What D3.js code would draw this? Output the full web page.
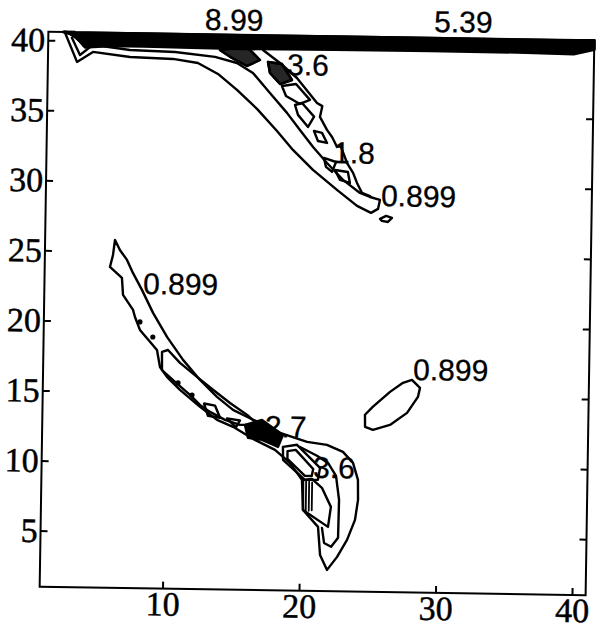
<!DOCTYPE html>
<html><head><meta charset="utf-8">
<script src="https://cdn.jsdelivr.net/npm/d3@7"></script>
<style>body{margin:0;background:#fff}svg{display:block}</style>
</head><body>
<svg id="chart" width="603" height="635"></svg>
<script>
// ---------- data (in data units) ----------
const xTicks = [10, 20, 30, 40];
const yTicks = [5, 10, 15, 20, 25, 30, 35, 40];
const xDomain = [1, 41];
const yDomain = [1, 40.6];

// top band: tightly packed contour lines (levels 1.8 ... 8.99)
const band0 = [[2.1,40.6],[2.9,40.52],[4,40.55],[8,40.56],[15,40.55],[22,40.56],[29,40.56],[36,40.55],[39.5,40.55],[41,40.58]];
const band1 = [[2.2,40.6],[3.0,40.40],[4.2,40.44],[8,40.45],[15,40.44],[22,40.45],[29,40.45],[36,40.44],[39.5,40.43],[41,40.5]];
const band2 = [[2.3,40.6],[3.1,40.27],[4.4,40.33],[8,40.34],[15,40.32],[22,40.34],[29,40.33],[36,40.33],[39.5,40.31],[41,40.42]];
const band3 = [[2.4,40.6],[3.2,40.15],[4.6,40.22],[8,40.23],[15,40.2],[22,40.22],[29,40.22],[36,40.22],[39.5,40.19],[41,40.34]];
const band4 = [[2.5,40.6],[3.3,40.03],[4.8,40.11],[8,40.12],[15,40.08],[22,40.11],[29,40.11],[36,40.1],[39.5,40.07],[41,40.26]];
const band5 = [[2.6,40.6],[3.4,39.9],[5.0,40.0],[8,40.0],[15,39.96],[22,39.99],[29,40.0],[36,39.99],[39.5,39.95],[41,40.18]];
const band6 = [[2.7,40.6],[3.5,39.78],[5.2,39.89],[8,39.89],[15,39.84],[22,39.88],[29,39.89],[36,39.88],[39.5,39.83],[41,40.1]];
const band7 = [[2.8,40.6],[3.6,39.66],[5.4,39.78],[8,39.78],[15,39.72],[22,39.77],[29,39.78],[36,39.77],[39.5,39.71],[41,40.02]];
const band8 = [[2.9,40.6],[3.7,39.54],[5.6,39.67],[8,39.67],[15,39.6],[22,39.66],[29,39.67],[36,39.66],[39.5,39.6],[41,39.94]];

// upper arm, level 0.899 (loop)
const arm1Level0899 = [[2.2,40.6],[3.13,38.48],[4.29,39.21],[7.01,38.89],[10.16,38.80],[11.99,38.54],[13.47,37.78],[14.88,36.66],[16.37,35.33],[17.86,33.78],[19.05,32.44],[20.54,31.04],[22.32,29.64],[23.81,28.52],[24.84,28.04],[25.35,28.33],[25.48,28.97],
  [24.75,29.17],[24.01,29.45],[22.75,30.36],[21.56,31.55],[20.52,32.68],[19.54,33.87],[18.57,35.08],[17.30,36.48],[16.03,37.89],[14.85,38.58],[13.23,38.99],[10.30,39.30],[7.0,39.39],[4.28,39.71],[3.34,38.98],[2.73,40.19]];
// upper arm, level 1.8 (jagged right edge)
const arm1Level18 = [[16.74,39.54],[18.0,38.63],[19.26,37.58],[20.46,36.17],[20.76,35.82],[21.15,35.6],[20.99,34.83],[21.52,33.91],[21.9,33.41],[22.27,32.72],[22.55,32.75],[23.03,31.57],[23.48,30.87],[23.78,30.16],[24.16,29.45],[24.75,29.24]];
// upper arm, small high-level islands
const arm1Tri1 = [[13.59,39.49],[15.57,39.73],[16.53,38.82],[15.59,38.38],[14.48,38.93]];
const arm1Blob = [[17.12,38.69],[18.15,38.56],[18.90,37.43],[18.03,37.13],[17.28,37.91]];
const arm1Rect = [[18.17,36.99],[19.20,37.15],[20.24,36.03],[19.51,35.73],[18.48,36.28]];
const arm1Bars = [[19.15,35.65],[19.66,35.80],[20.56,34.84],[20.13,34.10],[19.38,34.95]];
const arm1Tri2 = [[20.57,33.82],[21.16,33.69],[21.54,32.98],[20.87,33.11]];
const arm1Tri3 = [[21.33,31.91],[22.22,31.63],[21.94,30.92],[21.49,31.27]];
const arm1Tri4 = [[22.15,31.06],[23.10,30.93],[23.26,30.15],[22.53,30.36]];
const arm1Oval = [[25.51,27.62],[25.95,27.84],[26.38,27.70],[26.09,27.41],[25.65,27.48]];

// lower arm, level 0.899 (loop)
const arm2Level0899 = [[6.12,25.82],[5.99,24.75],[5.78,23.89],[6.67,23.12],[6.77,21.91],[7.52,20.85],[7.67,20.35],[8.05,19.43],[9.32,18.02],[9.56,16.81],[10.08,16.11],[11.05,15.20],[12.54,14.01],[13.80,13.10],[14.98,12.62],[16.60,11.71],[18.08,11.02],[19.19,10.11],[20.09,8.91],[20.20,6.77],[21.32,5.58],[21.50,3.58],[22.03,2.52],
  [22.75,3.46],[23.46,4.68],[24.02,6.12],[24.22,7.55],[24.19,8.98],[23.81,10.18],[23.06,10.96],[21.88,11.44],[20.42,11.63],[18.43,12.24],[16.95,12.93],[16.21,13.25],[14.96,13.83],[13.77,14.74],[12.51,15.93],[11.24,17.34],[10.04,18.96],[8.99,20.66],[8.15,22.29],[7.47,23.49],[7.02,24.41],[6.49,25.11],[6.12,25.82]];
// lower arm, level 1.8 strip
const arm2Level18 = [[9.69,17.89],[10.13,18.03],[11.02,17.12],[12.28,16.14],[13.47,15.24],[14.73,14.32],[16.0,13.49],[16.81,12.79],[15.49,12.77],[14.38,13.11],[13.28,13.66],[12.53,14.15],[11.79,14.85],[10.68,15.76],[9.71,16.59]];
const arm2Dots = [[8.04,20.0],[9.0,18.94],[10.90,15.69],[11.94,14.84]];
const arm2Sq = [[12.83,14.25],[13.64,14.11],[14.02,13.25],[13.13,13.38]];
const arm2Tri = [[14.53,13.22],[15.48,13.08],[15.19,12.58]];
// lower tip
const tipLevel18 = [[19.91,11.26],[21.16,10.65],[21.98,10.15],[22.58,9.24],[22.83,7.53],[22.80,4.82],[22.30,4.17],[21.78,4.44],[21.61,5.51]];
const tipPentagon = [[20.17,8.91],[20.20,6.77],[22.05,5.59],[22.24,7.02],[21.56,8.37],[20.82,8.99]];
const tipRect = [[18.66,11.25],[19.69,11.41],[21.40,9.79],[21.26,8.93],[20.31,8.92],[18.68,10.32]];
const tipRectInner = [[19.0,10.95],[19.6,11.05],[20.9,9.7],[20.8,9.2],[20.3,9.2],[19.0,10.4]];
const tipBowtie = [[15.85,12.77],[17.09,13.15],[18.65,12.10],[18.30,11.24],[17.12,11.72],[16.09,11.85]];
const tipBarsX = [20.4, 20.62, 20.84];
const tipBarsTop = [8.85, 8.8, 8.75];
const tipBarsBottom = [6.7, 6.72, 6.75];

// isolated oval, level 0.899
const ovalLevel0899 = [[28.03,16.17],[28.63,15.61],[28.49,14.96],[27.71,13.81],[26.47,12.93],[25.23,12.56],[24.65,12.77],[24.63,13.63],[25.21,14.22],[26.44,15.29],[27.38,15.95]];

// contour labels
const labelTexts = ["8.99", "5.39", "3.6", "1.8", "0.899", "0.899", "0.899", "2.7", "3.6"];
const labelX = [12.46, 29.25, 18.53, 22.0, 25.56, 8.23, 28.11, 17.31, 20.9];
const labelY = [40.91, 41.02, 37.78, 31.55, 28.54, 22.0, 16.17, 11.94, 9.07];

// ---------- drawing ----------
const L = 44, R = 590, T = 36, B = 591;
const svg = d3.select("#chart");
svg.append("rect").attr("width", 603).attr("height", 635).attr("fill", "#fff");
const g = svg.append("g").attr("transform", "rotate(0.9,317,313.5)");

const x = d3.scaleLinear().domain(xDomain).range([L, R]);
const y = d3.scaleLinear().domain(yDomain).range([B, T]);
const line = d3.line().x(d => x(d[0])).y(d => y(d[1]));

const bandLines = [band0, band1, band2, band3, band4, band5, band6, band7, band8];
const openLines = [arm1Level0899, arm1Level18, tipLevel18];
const closedLines = [arm1Tri1, arm1Blob, arm1Rect, arm1Bars, arm1Tri2, arm1Tri3, arm1Tri4, arm1Oval,
  arm2Level0899, arm2Level18, arm2Sq, arm2Tri, tipPentagon, tipRect, tipRectInner, ovalLevel0899];

const cg = g.append("g").attr("fill", "none").attr("stroke", "#000")
  .attr("stroke-width", 2.4).attr("stroke-linejoin", "round").attr("stroke-linecap", "round");
cg.selectAll("path.band").data(bandLines).join("path").attr("class", "band")
  .attr("stroke-width", 3).attr("d", d => line(d));
cg.selectAll("path.open").data(openLines).join("path").attr("class", "open").attr("d", d => line(d));
cg.selectAll("path.closed").data(closedLines).join("path").attr("class", "closed").attr("d", d => line(d) + "Z");
cg.append("path").attr("d", line(tipBowtie) + "Z").attr("fill", "#000");
cg.append("path").attr("d", line(arm1Tri1) + "Z").attr("fill", "#000").attr("fill-opacity", 0.85);
cg.append("path").attr("d", line(arm1Blob) + "Z").attr("fill", "#000").attr("fill-opacity", 0.85);
cg.selectAll("line.bar").data(tipBarsX).join("line").attr("class", "bar")
  .attr("x1", d => x(d)).attr("x2", d => x(d))
  .attr("y1", (d, i) => y(tipBarsTop[i])).attr("y2", (d, i) => y(tipBarsBottom[i]))
  .attr("stroke-width", 1.8);
g.append("g").selectAll("circle").data(arm2Dots).join("circle")
  .attr("cx", d => x(d[0])).attr("cy", d => y(d[1])).attr("r", 2.6).attr("fill", "#000");

// labels
g.append("g").selectAll("text").data(labelTexts).join("text")
  .attr("x", (d, i) => x(labelX[i])).attr("y", (d, i) => y(labelY[i]))
  .attr("font-family", "Liberation Sans, Arial, sans-serif").attr("font-size", 30)
  .attr("fill", "#000").attr("stroke", "#000").attr("stroke-width", 0.3).text(d => d);

// axes
const serif = "Liberation Serif, Times New Roman, serif";
const gx = g.append("g").attr("transform", `translate(0,${B})`)
  .call(d3.axisBottom(x).tickValues(xTicks).tickSizeInner(-7).tickSizeOuter(0));
gx.select(".domain").remove();
gx.selectAll("line").attr("stroke-width", 2);
gx.selectAll("text").attr("y", 27).attr("dy", null)
  .attr("font-family", serif).attr("font-size", 34).attr("fill", "#000")
  .attr("stroke", "#000").attr("stroke-width", 0.5);

const gy = g.append("g").attr("transform", `translate(${L},0)`)
  .call(d3.axisLeft(y).tickValues(yTicks).tickSizeInner(-7).tickSizeOuter(0).tickPadding(3));
gy.select(".domain").remove();
gy.selectAll("line").attr("stroke-width", 2);
gy.selectAll("text").attr("font-family", serif).attr("font-size", 34).attr("fill", "#000")
  .attr("stroke", "#000").attr("stroke-width", 0.5);

const gt = g.append("g").attr("transform", `translate(0,${T})`)
  .call(d3.axisTop(x).tickValues(xTicks).tickSizeInner(-7).tickSizeOuter(0).tickFormat(""));
gt.select(".domain").remove();
gt.selectAll("line").attr("stroke-width", 2);
const gr = g.append("g").attr("transform", `translate(${R},0)`)
  .call(d3.axisRight(y).tickValues(yTicks).tickSizeInner(-7).tickSizeOuter(0).tickFormat(""));
gr.select(".domain").remove();
gr.selectAll("line").attr("stroke-width", 2);

g.append("rect").attr("x", L).attr("y", T).attr("width", R - L).attr("height", B - T)
  .attr("fill", "none").attr("stroke", "#000").attr("stroke-width", 2);
</script>
</body></html>
